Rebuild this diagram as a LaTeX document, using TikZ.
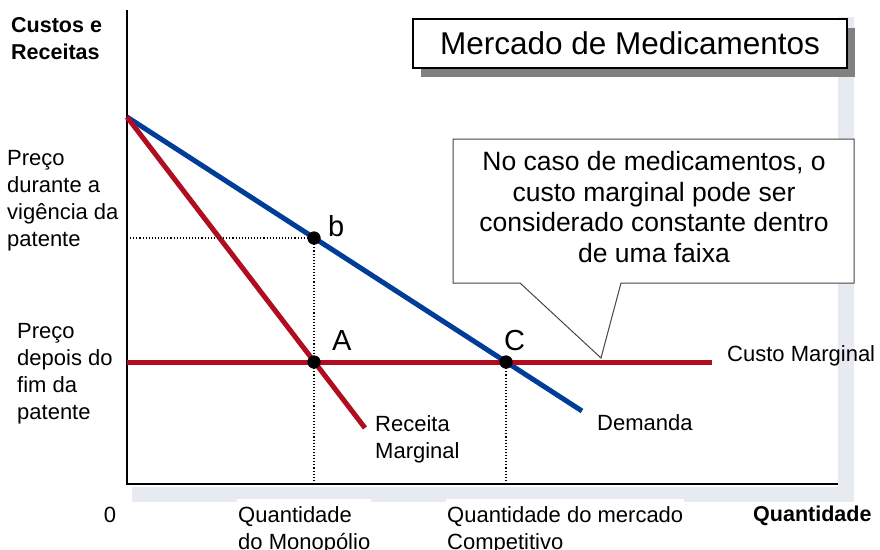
\documentclass[tikz,border=0pt]{standalone}
\usepackage{fontspec}
\setmainfont{Liberation Sans}
\usetikzlibrary{shadows}
\definecolor{mcred}{RGB}{176,14,32}
\definecolor{dblue}{RGB}{0,61,153}
\definecolor{panelshadow}{RGB}{232,234,241}
\definecolor{boxshadow}{RGB}{128,128,128}
\definecolor{calloutgray}{RGB}{70,70,70}
\tikzset{
  axisline/.style={line width=2.2pt, black},
  redline/.style={line width=5pt, mcred},
  blueline/.style={line width=5pt, dblue},
  guide/.style={line width=1.1pt, black, dotted},
  dotpt/.style={circle, fill=black, minimum size=13pt, inner sep=0pt},
  lab/.style={font=\fontsize{22}{27}\selectfont, inner sep=0pt, align=left},
  boldlab/.style={font=\fontsize{21.5}{27}\selectfont\bfseries, inner sep=0pt, align=left},
  ptlab/.style={font=\fontsize{29}{34}\selectfont, inner sep=0pt, anchor=base west},
  qlab/.style={lab, fill=white, inner xsep=1pt, inner ysep=8pt, anchor=north west},
  titlebox/.style={draw=black, line width=1.2pt, fill=white, minimum width=434pt, minimum height=49pt,
    font=\fontsize{31.5}{36}\selectfont, inner sep=0pt,
    general shadow={fill=boxshadow, shadow xshift=8pt, shadow yshift=-8.5pt}},
  calloutline/.style={draw=calloutgray, line width=1pt, fill=white},
  notetext/.style={font=\fontsize{26.5}{30.5}\selectfont, align=center, inner sep=0pt}
}
\begin{document}
\begin{tikzpicture}[x=1pt,y=-1pt]
\useasboundingbox (0,0) rectangle (880,549);
% panel and its shadow
\fill[panelshadow] (132,17) rectangle (854,502);
\fill[white] (0,0) rectangle (838,487);

% axes
\coordinate (ytop) at (127,10);
\coordinate (O) at (127,484);
\coordinate (xend) at (838,484);
\draw[axisline] (ytop) -- (O) -- (xend);

% curves
\coordinate (P0) at (127,117);
\coordinate (Dend) at (582,411);
\coordinate (MRend) at (365,428);
\coordinate (mc0) at (127,362);
\coordinate (mc1) at (712,362);
\coordinate (yb) at (127,238);

\draw[blueline] (P0) -- (Dend);
\draw[redline] (P0) -- (MRend);
\draw[redline] (mc0) -- (mc1);

% points
\node[dotpt] (b) at (314,238) {};
\node[dotpt] (A) at (314,362) {};
\node[dotpt] (C) at (506,362) {};

% guides
\draw[guide] (yb) -- (b.center);
\draw[guide] (b.center) -- (b |- O);
\draw[guide] (C.center) -- (C |- O);
\node[dotpt] at (b) {};
\node[dotpt] at (A) {};
\node[dotpt] at (C) {};

% point labels
\node[ptlab] (lb) at (328,236) {b};
\node[ptlab] (lA) at (332,350) {A};
\node[ptlab] (lC) at (504,350) {C};

% curve labels
\node[lab, anchor=north west] (lMR) at (375,415) {Receita\\Marginal};
\node[lab, anchor=base west] (lD) at (597,430) {Demanda};
\node[lab, anchor=base west] (lMC) at (727,361) {Custo Marginal};

% axis labels
\node[boldlab, anchor=north west] (ylab) at (11,17.5) {Custos e\\Receitas};
\node[lab, anchor=north west] (p1) at (7,150) {Preço\\durante a\\vigência da\\patente};
\node[lab, anchor=north west] (p2) at (17,323) {Preço\\depois do\\fim da\\patente};
\node[lab, anchor=base] (zero) at (110,522) {0};
\node[qlab] (qm) at (237,498.5) {Quantidade\\do Monopólio};
\node[qlab] (qc) at (446,498.5) {Quantidade do mercado\\Competitivo};
\node[font=\fontsize{21.5}{27}\selectfont\bfseries, inner sep=0pt, anchor=base west] (xlab) at (753,521) {Quantidade};

% title
\node[titlebox] (title) at (630,43.5) {Mercado de Medicamentos};

% callout
\coordinate (tip) at (601,358);
\draw[calloutline] (453,139) -- (854,139) -- (854,283) -- (621,283) -- (tip) -- (520,283) -- (453,283) -- cycle;
\node[notetext] (note) at (654,207) {No caso de medicamentos, o\\custo marginal pode ser\\considerado constante dentro\\de uma faixa};
\end{tikzpicture}
\end{document}
